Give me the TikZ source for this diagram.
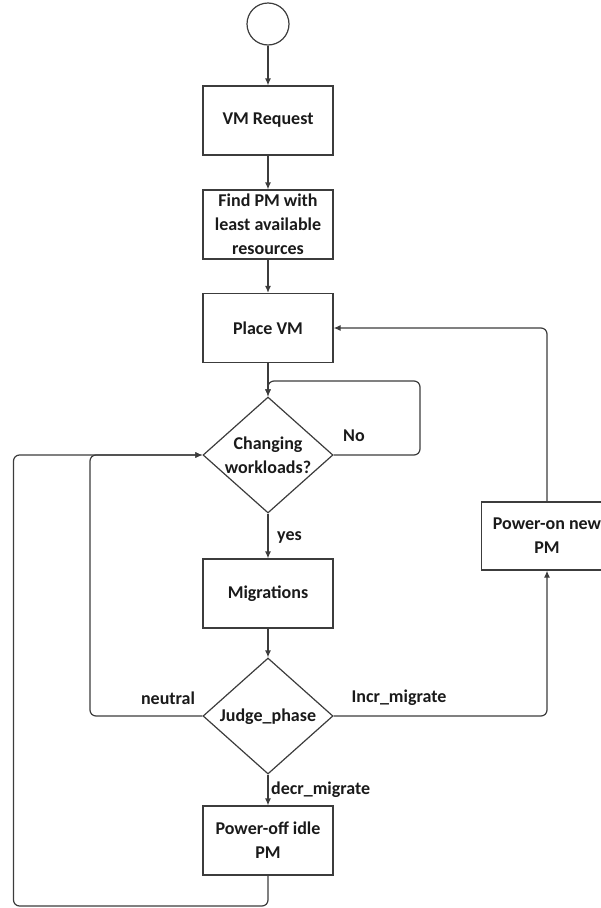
\documentclass[tikz,border=0pt]{standalone}
\usepackage{fontspec}
\setmainfont{Carlito}
\usetikzlibrary{shapes.geometric,arrows.meta}

\definecolor{inkline}{HTML}{3C3C3C}
\definecolor{inktext}{HTML}{1A1A1A}

\tikzset{
  every node/.style={font=\bfseries\fontsize{18}{24}\selectfont, text=inktext},
  stepbox/.style={draw=inkline, line width=1.2pt, rectangle, minimum width=130pt,
                  minimum height=69pt, inner sep=0pt, align=center},
  decision/.style={draw=inkline, line width=1.2pt, diamond, minimum width=130pt,
                   minimum height=116pt, inner sep=0pt},
  startnode/.style={draw=inkline, line width=1.2pt, circle, minimum size=42pt, inner sep=0pt},
  flowtext/.style={align=center, inner sep=0pt},
  edgelabel/.style={inner sep=0pt},
  conn/.style={draw=inkline, line width=1.2pt, -{Latex[length=7pt,width=6pt]}},
  loopline/.style={conn, rounded corners=6pt},
}

\begin{document}
\begin{tikzpicture}[x=1pt, y=-1pt]
  \useasboundingbox (0,0) rectangle (601,908);
  \clip (0,0) rectangle (601,908);

  % main column
  \node[startnode] (start) at (268,24) {};
  \node[stepbox] (req)   at (268,120.5) {VM Request};
  \node[stepbox] (find)  at (268,224.5) {Find PM with\\least available\\resources};
  \node[stepbox] (place) at (268,328) {Place VM};
  \node[decision] (chg)  at (268,455) {};
  \node[flowtext] (chgtxt) at (268,455.5) {Changing\\workloads?};
  \node[stepbox] (mig)   at (268,593.5) {Migrations};
  \node[decision] (judge) at (268,716) {};
  \node[flowtext] (judgetxt) at (268,717) {Judge\_phase};
  \node[stepbox] (off)   at (268,840.5) {Power-off idle\\PM};

  % side box
  \node[stepbox, minimum width=131pt, minimum height=68pt] (on) at (547,536) {Power-on new\\PM};

  % bend points of the loops
  \coordinate (nobend)   at (420,381);
  \coordinate (neutbend) at (90,455);
  \coordinate (outbendA) at (268,906);
  \coordinate (outbendB) at (13.5,906);
  \coordinate (outbendC) at (13.5,455);

  % straight flow
  \draw[conn] (start) -- (req);
  \draw[conn] (req) -- (find);
  \draw[conn] (find) -- (place);
  \draw[conn] (place) -- (chg);
  \draw[conn] (chg) -- (mig);
  \draw[conn] (mig) -- (judge);
  \draw[conn] (judge) -- (off);

  % loops
  \draw[loopline] (chg.east) -| (nobend) -| (chg.north);
  \draw[loopline] (judge.east) -| (on.south);
  \draw[loopline] (on.north) |- (place.east);
  \draw[loopline] (judge.west) -| (neutbend) -- (chg.west);
  \draw[loopline] (off.south) -- (outbendA) -- (outbendB) -- (outbendC) -- (chg.west);

  % labels
  \node[edgelabel] (lno)      at (354,436) {No};
  \node[edgelabel, anchor=west] (lyes) at (277,537) {yes};
  \node[edgelabel] (lneutral) at (168,698) {neutral};
  \node[edgelabel] (lincr)    at (399,698) {Incr\_migrate};
  \node[edgelabel, anchor=west] (ldecr) at (271,790) {decr\_migrate};
\end{tikzpicture}
\end{document}
